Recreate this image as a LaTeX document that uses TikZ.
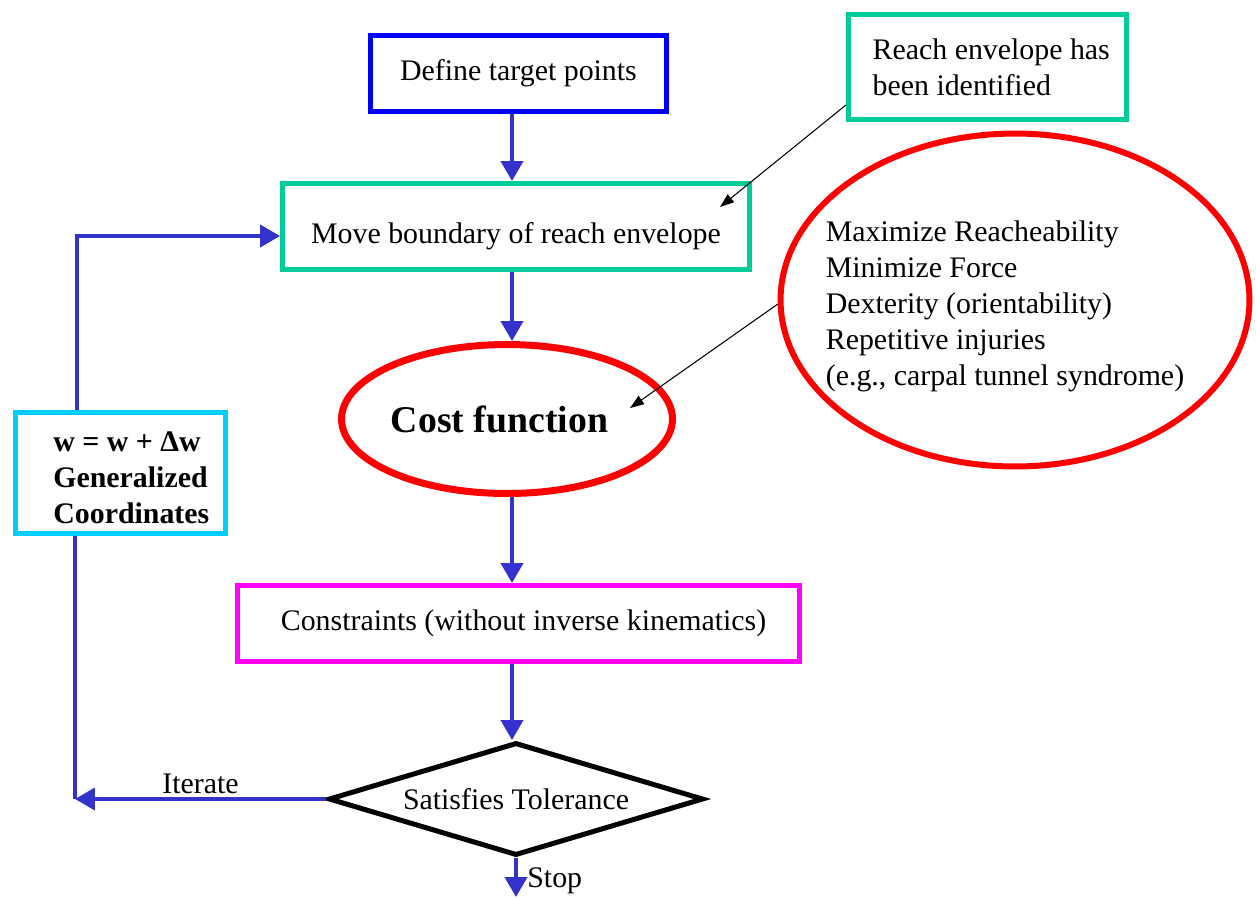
\documentclass[tikz,border=0pt]{standalone}
\usepackage{fontspec}
\setmainfont{Liberation Serif}
\usetikzlibrary{arrows.meta,shapes.geometric}
\definecolor{boxblue}{RGB}{0,0,255}
\definecolor{flowblue}{RGB}{51,51,204}
\definecolor{envgreen}{RGB}{0,204,153}
\definecolor{costred}{RGB}{255,0,0}
\definecolor{conmag}{RGB}{255,0,255}
\definecolor{updcyan}{RGB}{0,204,255}
\tikzset{
  box/.style={draw, line width=0.1cm, rectangle, inner sep=0pt, align=center},
  flow/.style={draw=flowblue, line width=0.08cm, -{Triangle[length=0.4cm,width=0.44cm]}},
  note/.style={draw=black, line width=0.6pt, -{Triangle[length=0.28cm,width=0.2cm]}},
  txt/.style={font=\fontsize{17}{20.5}\selectfont}
}

\begin{document}
\begin{tikzpicture}[x=0.02cm, y=-0.02cm, txt]
        \useasboundingbox (0,0) rectangle (1256,897);
        % main column
        \node[box, draw=boxblue, minimum width=5.92cm, minimum height=1.52cm] (target) at (518.5,73.5) {Define target points};
        \node[box, draw=envgreen, minimum width=9.34cm, minimum height=1.72cm, text height=0.8cm] (move) at (516,226.5) {Move boundary of reach envelope};
        \node[ellipse, draw=costred, line width=0.14cm, inner sep=0pt, minimum width=6.62cm, minimum height=2.98cm,
              font=\fontsize{21.5}{25}\selectfont\bfseries] (cost) at (507,419) {Cost function\hspace*{0.3cm}};
        \node[box, draw=conmag, minimum width=11.24cm, minimum height=1.52cm] (cons) at (518.5,623.5) {\hspace*{0.2cm}Constraints (without inverse kinematics)};
        \node[diamond, draw=black, line width=0.1cm, inner sep=0pt, aspect=3.2, minimum width=7.5cm, minimum height=2.26cm] (tol) at (516,799) {Satisfies Tolerance};
        % side notes
        \node[box, draw=envgreen, align=left, minimum width=5.56cm, minimum height=2.1cm] (reach) at (987.5,67) {\hspace*{0.15cm}Reach envelope has\\\hspace*{0.15cm}been identified};
        \node[ellipse, draw=costred, line width=0.12cm, minimum width=9.38cm, minimum height=6.66cm] (goals) at (1015,300) {};
        \node[align=left, inner sep=0pt] (goalstext) at (1005,306) {Maximize Reacheability\\Minimize Force\\Dexterity (orientability)\\Repetitive injuries\\(e.g., carpal tunnel syndrome)};
        \node[box, draw=updcyan, minimum width=4.2cm, minimum height=2.42cm] (upd) at (120.5,473) {};
        \node[align=left, inner sep=0pt, anchor=west, font=\fontsize{17}{20.5}\selectfont\bfseries] (updtext) at (53,478) {w = w + Δw\\Generalized\\Coordinates};
        % flow arrows
        \coordinate (spine) at (512,0);
        \draw[flow] (target.south -| spine) -- (move.north -| spine);
        \draw[flow] (move.south -| spine) -- (cost.north -| spine);
        \draw[flow] (cost.south -| spine) -- (cons.north -| spine);
        \draw[flow] (cons.south -| spine) -- (tol.north -| spine);
        \coordinate (stopend) at (514,897);
        \draw[flow] (tol.south) -- (tol.south |- stopend);
        \node[anchor=west, inner sep=0pt] (stop) at (527,881) {Stop};
        % iteration loop
        \coordinate (back) at (77,236);
        \coordinate (turn) at (75,801);
        \draw[flow] (upd.north -| back) -- (back) -- (move.west |- back);
        \draw[draw=flowblue, line width=0.08cm] (upd.south -| turn) -- (tol.west -| turn);
        \draw[flow] (tol.west) -- (tol.west -| turn) node[midway, above, inner sep=2pt] {Iterate};
        % pointers
        \coordinate (hit1) at (720,207);
        \coordinate (hit2) at (630,408);
        \draw[note] (reach.195) -- (hit1);
        \draw[note] (goals.181) -- (hit2);
\end{tikzpicture}
\end{document}
